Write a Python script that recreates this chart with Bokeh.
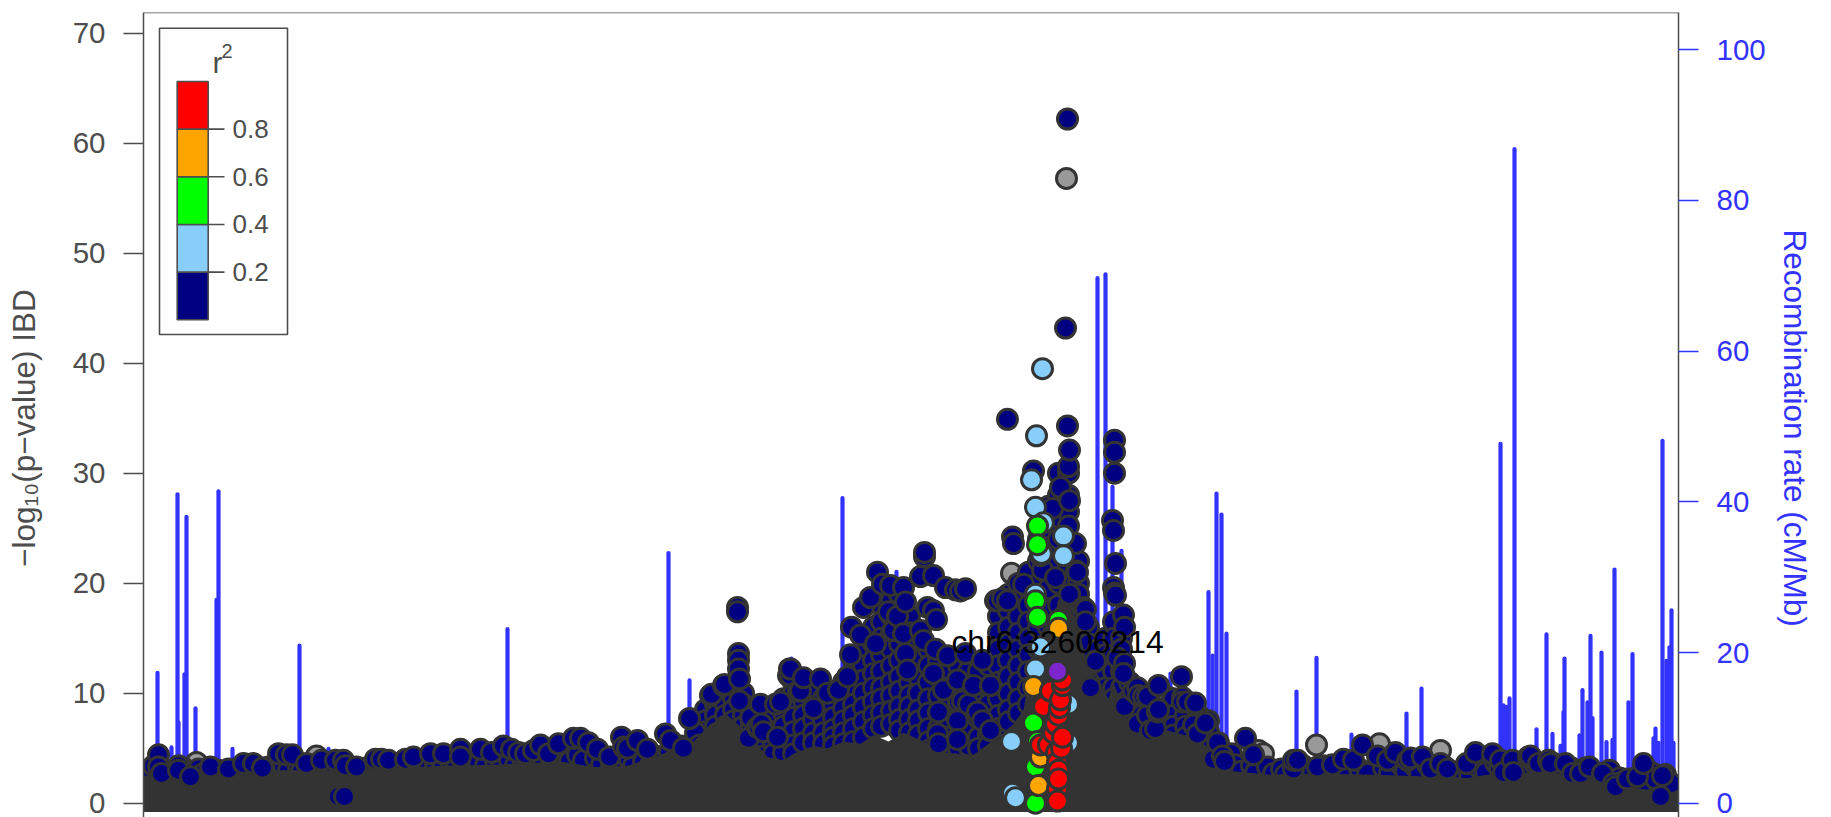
from bokeh.plotting import figure
from bokeh.models import Range1d, LinearAxis, FixedTicker, Span
from bokeh.core.properties import value
from bokeh.embed import file_html
from bokeh.resources import INLINE

# x is position in kb from the left edge of the window; y is -log10(p)
# recombination rate spikes (kb, cM/Mb)
rate_kb = [14,28,34,35,41,43,52,73,75,89,156,185,364,525,546,551,648,699,753,954,962,969,978,1027,1065,1069,1073,1078,1083,1096,
           1153,1173,1208,1263,1278,1340,1357,1360,1363,1366,1371,1393,1403,1409,1417,1420,1421,1436,1439,1444,1447,1449,1458,1463,1469,1471,
           1485,1489,1495,1510,1512,1515,1519,1523,1524,1526,1528,1530]
rate_val = [17.3,7.4,41.0,10.7,17.1,38.0,12.6,27.0,41.4,7.2,20.9,7.2,23.1,33.2,16.3,12.3,19.2,40.5,30.7,69.7,70.2,42.0,33.5,17.2,28.0,19.6,41.1,38.3,22.5,8.6,
            14.8,19.3,9.1,11.9,15.2,6.7,47.7,13.0,12.8,13.9,86.8,9.8,22.4,9.2,7.6,12.1,19.2,9.0,15.0,13.4,22.2,11.3,20.0,8.1,8.4,31.0,
            13.4,19.8,6.1,8.6,9.9,8.0,48.1,18.9,8.5,20.7,25.6,8.0]

# outline of the solid overplotted mass of points
mass_kb = [0,50,100,150,185,210,250,300,350,400,417,450,484,517,550,567,584,604,624,640,650,670,684,700,717,730,745,760,780,800,830,860,
           870,880,890,905,925,945,965,970,990,1024,1050,1057,1075,1090,1124,1157,1224,1290,1324,1357,1390,1424,1457,1490,1524,1535]
mass_top = [2.5,2.7,3.0,3.0,3.0,3.0,3.2,3.4,3.5,3.7,3.8,3.3,3.4,4.4,5.6,7.2,8.0,6.4,4.2,3.9,4.5,5.2,5.0,5.6,5.4,6.2,5.6,6.4,5.6,4.6,4.4,6.4,
            7.2,8.5,14.0,17.0,19.0,12.5,9.5,11.0,6.2,6.6,6.0,5.6,4.3,2.9,2.6,2.7,2.6,2.4,2.3,2.8,2.8,2.7,2.1,1.4,1.0,1.0]

# stacks of points inside the dense part of the peak: position -> values
stack_kb = [562,572,582,590,600,608,620,630,640,650,660,670,680,690,700,710,720,730,738,748,756,766,775,785,795,805,815,825,835,845,
            855,865,875,885,895,905,915,925,935,945,955,962,970,978,986,998,1008,1020,1030,1042,1055,1065,1075,1088]
stack_vals = [[8.5,7.5,6.5],[9,8,7],[10,9,8,7],[10.5,9.5,8.5,7.5,6.5],[10,9,8,7,6],[7,6,5.3],[7.5,6,5,4.3],[8,6.5,5.5,4.5],
              [9.5,8.2,7,5.8,4.6],[11,10,9,7.8,6.5,5.3,4.5],[10.5,9.3,8,6.8,5.5],[10,8.8,7.6,6.4,5.5],[9.5,8.6,7.5,6.4,5.4],[10,9,7.8,6.7,6,5.2],
              [11,9.8,8.6,7.5,6.4,5.4],[13,11.5,10.3,9,8,6.8,5.6],[14,12.5,11.2,10,8.7,7.4,6],[16,14.5,13,11.8,10.5,9.2,8,6.8],[18,16.5,15,13.5,12,10.5,9.5,8.2,7],
              [18.5,17,15.5,14,12.5,11,9.8,8.4,7.2],[19,16,14.5,13,11.5,10.2,8.8,7.6,6.6],[17,15.5,14,12.5,11,9.8,8.8,7.6,6.4],[14.5,13,11.5,10,8.5,7.5,6.2],
              [14,12.5,11,9.5,8.2,6.8,5.6,4.8],[13,11.5,9.8,8.2,6.8,5.8,4.8],[12,10.5,9,7.5,6,5],[12.5,10.5,9.2,7.5,6,5],[12,10.2,8,6.5,5.2],[12,9.5,7.7,6,5],
              [12.5,10.5,9,7.5,6.2,5.2],[17,15.5,14,12.5,11,9.5,8,6.8],[19,17.5,16,14.5,13,11.5,10,8.5,7.4],[20,18.5,17,15.5,14,12.5,11,9.5,8.2],
              [21,19.5,18,16.5,15,13.5,12,10.5,9],[24,22,20,18,16,14,12],[27,25,23,21.5,19.5,17.5,16,14,12],[30,28,26,24,22,20,18],
              [30,28,26.5,24,23,21.5,20,18],[22,20,19,17.5,16,14.5,13,11.5],[16,14.5,13,11.5,10],[14,12.5,11,9.5,8.5],
              [15,13.5,12,10.5,9],[16.5,15,13.5,12,10.5,9.5],[15,14,12,10.5,9],[11,9.5,8.5,7.5],[9,8,7,6.2],[8.5,7.5,6.5],
              [8.6,7.5,6.5,5.8],[9.5,8,7,6.2],[9,8,7,6],[8,7,6,5],[7.5,6.5,5.5],[5.5,4.5],[4.5,3.5]]

# points along the low shoulders, just under the upper edge
base_kb = [5,10,22,28,40,45,55,60,75,80,92,95,105,112,125,128,140,145,155,158,170,175,185,188,210,215,222,228,236,242,252,256,268,272,280,285,
           292,298,308,312,322,326,335,342,352,358,366,372,380,386,394,400,408,412,422,426,434,440,452,458,468,472,486,490,500,506,512,516,526,532,
           538,544,552,556,
           1092,1098,1108,1112,1124,1130,1138,1142,1160,1164,1180,1184,1196,1204,1216,1224,1240,1246,1258,1262,1272,1276,1284,1292,1300,1310,1318,1326,1336,1342,1352,
           1356,1366,1374,1380,1392,1398,1410,1414,1428,1434,1442,1452,1456,1466,1476,1480,1490,1498,1508,1512,1522,1528]
base_val = [2.8,3.4,3.0,2.6,3.2,2.8,3.1,2.7,3.0,2.6,3.1,2.7,3.2,2.8,3.3,2.9,3.4,3.0,3.3,2.9,3.3,3.0,3.2,2.8,3.1,2.7,3.2,2.9,3.3,2.8,3.4,2.9,3.4,3.0,3.3,3.6,
            3.5,3.9,3.5,3.1,3.7,3.2,3.8,3.4,3.8,3.3,3.9,3.4,3.7,3.3,3.9,3.5,3.9,3.4,4.3,3.8,4.4,3.9,4.1,3.5,3.6,3.2,3.9,3.4,3.8,3.3,4.3,3.7,4.6,4.0,
            5.2,4.4,6.4,5.3,
            3.5,2.9,3.4,2.8,3.3,2.7,3.1,2.6,3.4,2.8,3.4,2.8,3.0,2.6,3.1,2.7,3.2,2.7,3.4,2.9,3.3,2.8,3.5,3.0,3.4,2.7,3.0,2.5,3.2,2.8,3.7,
            3.2,3.6,3.2,2.8,3.5,3.0,3.6,3.1,3.2,2.8,3.2,2.6,2.2,3.0,2.3,2.0,2.2,1.7,2.8,2.2,2.6,1.8]

navy_kb = [15,15,18,35,35,47,67,85,100,110,119,135,143,149,163,178,192,200,195,201,202,213,232,238,245,262,270,287,300,317,317,337,348,360,368,375,382,390,397,405,415,
           430,437,445,454,466,478,480,484,494,504,522,527,540,546,567,568,580,581,594,594,595,595,595,596,596,605,607,614,615,617,618,620,632,634,637,645,646,647,647,655,657,660,670,677,684,695,
           704,707,708,717,720,727,732,734,739,745,747,750,754,760,760,762,762,764,777,777,780,781,781,784,790,790,790,792,793,794,795,795,800,802,804,812,814,814,814,817,819,822,822,825,830,834,839,839,847,847,
           852,854,859,864,864,869,870,880,890,899,909,912,917,922,924,924,925,925,926,926,926,932,933,934,940,942,942,947,952,
           969,970,970,971,971,971,971,972,972,974,980,981,981,980,981,990,994,994,995,1000,1004,1004,1007,1012,1014,1015,1015,1038,1039,1039,1044,1050,1052,1054,1062,1070,1074,1079,1081,
           1102,1110,1150,1150,1154,1174,1189,1200,1210,1219,1234,1244,1252,1264,1267,1279,1287,1297,1304,1323,1332,1349,1357,1360,1369,1370,1385,1387,1395,1405,1407,1422,1429,1437,1446,1459,1470,1472,1484,1494,1500,1517,1519,1532,1534]
navy_val = [4.4,3.3,2.7,3.4,3.0,2.4,3.3,3.1,3.6,3.6,3.2,4.5,4.4,4.4,3.6,3.9,3.9,3.9,0.6,0.6,3.4,3.3,4.0,4.0,3.9,4.0,4.2,4.5,4.5,4.9,4.2,4.9,4.6,5.2,4.9,4.6,4.5,4.8,5.3,4.5,5.4,
            5.9,5.9,5.5,4.9,4.2,6.0,5.1,5.0,5.7,4.9,6.3,5.7,5.0,7.7,9.8,9.9,10.7,10.8,17.8,17.4,13.6,13.0,12.2,11.3,9.3,5.9,7.8,6.9,6.9,9.0,7.2,6.5,9.0,6.0,9.2,11.6,12.2,11.6,12.2,10.2,10.2,11.4,8.6,11.3,10.0,10.3,
            11.5,13.5,16.0,15.3,17.8,18.7,14.5,21.0,19.9,17.4,19.8,15.7,17.0,19.6,15.4,18.3,13.6,12.1,20.6,15.7,14.8,22.4,22.8,17.8,20.7,17.5,11.8,14.0,16.7,6.3,8.3,5.4,10.3,19.6,13.4,19.4,11.2,7.5,5.8,19.3,9.3,19.5,13.6,9.0,10.7,8.3,13.0,7.5,10.7,6.6,
            18.4,18.4,18.6,34.9,18.4,24.2,23.6,19.9,30.2,21.2,26.8,20.5,28.7,43.2,62.2,34.3,30.6,25.2,32.1,27.5,19.0,23.6,21.1,21.0,17.8,17.6,16.5,10.5,12.9,
            25.7,24.8,19.6,33.0,31.9,30.0,19.1,21.8,18.9,13.2,17.1,16.0,12.7,11.8,8.8,10.2,7.2,10.5,9.8,9.7,8.0,9.7,6.6,6.8,8.3,8.5,10.7,11.5,9.6,9.2,9.2,7.1,9.1,6.3,7.3,4.0,5.5,
            4.3,3.8,5.9,4.4,3.1,3.9,3.9,3.3,3.5,4.0,3.9,5.3,4.3,3.9,4.6,3.9,4.1,4.2,3.1,3.6,3.1,3.6,4.6,4.5,3.9,2.8,3.9,2.8,4.2,4.3,3.6,3.9,3.6,3.6,2.7,2.7,3.3,2.7,1.8,1.5,2.2,2.4,3.6,0.6,2.5]

gray_kb = [53,173,815,837,850,868,923,1025,1029,1115,1120,1173,1236,1297]
gray_val = [3.7,4.3,6.9,11.5,7.8,20.9,56.8,9.6,9.3,4.8,4.5,5.3,5.4,4.8]

sky_kb = [868,869,872,888,892,892,892,893,897,897,898,899,900,920,920,925,925]
sky_val = [5.6,0.9,0.5,29.4,26.9,19.0,12.2,33.4,22.5,14.2,22.7,39.5,25.5,24.3,22.5,9.0,5.5]

green_kb = [890,892,892,892,894,894,894,894,915]
green_val = [7.3,18.4,3.3,0.0,25.2,23.5,16.9,5.6,16.6]

orange_kb = [890,895,897,915]
orange_val = [10.6,1.6,4.2,15.9]

red_kb = [897,900,905,907,910,912,913,914,914,914,915,915,915,916,917,918,919,919,919]
red_val = [5.3,8.8,5.3,10.2,6.4,7.2,4.6,3.7,1.3,0.2,8.0,3.0,2.2,8.7,9.4,5.0,10.7,6.0,11.2]

lead_kb = [914]
lead_val = [12.0]
lead_name = "chr6:32606214"

left_ticks = [0,10,20,30,40,50,60,70]
right_ticks = [0,20,40,60,80,100]
legend_breaks = [0.0,0.2,0.4,0.6,0.8,1.0]
legend_colors = ["#000080","#87CEFA","#00FF00","#FFA500","#FF0000"]
legend_labels = ["0.2","0.4","0.6","0.8"]

INK = "#4D4D4D"
BLUE = "#3333FF"
FONT = "Liberation Sans"
EDGE = "#333333"

# page-pixel helpers for the furniture placed around the frame
def kx(px):
    return px - 143.0
def vy(py):
    return (802.7 - py) / 11.0

p = figure(width=1825, height=817, output_backend="svg", toolbar_location=None,
           x_range=Range1d(0, 1535), y_range=Range1d(vy(817), vy(12)),
           min_border_left=143, min_border_right=147, min_border_top=12, min_border_bottom=0)
p.xaxis.visible = False
p.xgrid.visible = False
p.ygrid.visible = False
p.outline_line_color = None
p.background_fill_color = "white"
p.add_layout(Span(location=vy(12), dimension="width", line_color=INK, line_width=1.5))

ax = p.yaxis[0]
ax.ticker = FixedTicker(ticks=left_ticks)
ax.major_tick_in = 0
ax.major_tick_out = 20
ax.minor_tick_line_color = None
ax.major_tick_line_color = INK
ax.major_tick_line_width = 1.5
ax.axis_line_color = INK
ax.axis_line_width = 1.5
ax.major_label_text_color = INK
ax.major_label_text_font = FONT
ax.major_label_text_font_size = "29.5px"
ax.major_label_standoff = 18
ax.axis_label = "\u2212log\u2081\u2080(p\u2212value) IBD\u00a0\u00a0\u00a0"
ax.axis_label_text_color = INK
ax.axis_label_text_font = FONT
ax.axis_label_text_font_style = "normal"
ax.axis_label_text_font_size = "31.5px"
ax.axis_label_standoff = 28

p.extra_y_ranges = {"rate": Range1d((vy(817)) * 11.0 / 7.535, vy(12) * 11.0 / 7.535)}
rax = LinearAxis(y_range_name="rate", ticker=FixedTicker(ticks=right_ticks))
rax.major_tick_in = 0
rax.major_tick_out = 20
rax.minor_tick_line_color = None
rax.major_tick_line_color = BLUE
rax.major_tick_line_width = 1.5
rax.axis_line_color = INK
rax.axis_line_width = 1.5
rax.major_label_text_color = BLUE
rax.major_label_text_font = FONT
rax.major_label_text_font_size = "29.5px"
rax.major_label_standoff = 18
rax.axis_label = "\u00a0\u00a0\u00a0Recombination rate (cM/Mb)"
rax.axis_label_text_color = BLUE
rax.axis_label_text_font = FONT
rax.axis_label_text_font_style = "normal"
rax.axis_label_text_font_size = "31.5px"
rax.axis_label_standoff = 8
p.add_layout(rax, "right")

# recombination spikes
p.segment(x0=rate_kb, y0=[0]*len(rate_kb), x1=rate_kb, y1=rate_val, y_range_name="rate",
          line_color=BLUE, line_width=4.2, line_cap="round")

def pts(x, y, color):
    p.scatter(x, y, size=20, fill_color=color, line_color=EDGE, line_width=3)

stack_x = [k for k, vs in zip(stack_kb, stack_vals) for _ in vs]
stack_y = [v for vs in stack_vals for v in vs]
pts(gray_kb, gray_val, "#999999")
pts(stack_x, stack_y, "#000080")
pts(base_kb, base_val, "#000080")

# overplotted base hides the lower part of those points
p.varea(x=mass_kb, y1=[vy(811.5)]*len(mass_kb), y2=mass_top, fill_color=EDGE)

pts(navy_kb, navy_val, "#000080")
pts(sky_kb, sky_val, "#87CEFA")
pts(green_kb, green_val, "#00FF00")
pts(orange_kb, orange_val, "#FFA500")
pts(red_kb, red_val, "#FF0000")
pts(lead_kb, lead_val, "#7D26CD")

# r2 legend box
p.quad(left=[kx(159)], right=[kx(287)], top=[vy(27.7)], bottom=[vy(334)],
       fill_color="white", line_color=INK, line_width=1.6)
def ley(r):
    return vy(319.3 - r * (319.3 - 81.0))
p.quad(left=[kx(176.7)]*5, right=[kx(207.7)]*5,
       bottom=[ley(b) for b in legend_breaks[:-1]], top=[ley(b) for b in legend_breaks[1:]],
       fill_color=legend_colors, line_color=INK, line_width=1.6)
tb = legend_breaks[1:-1]
p.segment(x0=[kx(207.7)]*4, x1=[kx(224)]*4, y0=[ley(b) for b in tb], y1=[ley(b) for b in tb],
          line_color=INK, line_width=1.6)
p.text(x=[kx(232)]*4, y=[ley(b) for b in tb], text=legend_labels, text_align="left", text_baseline="middle",
       text_color=INK, text_font=value(FONT), text_font_size="26px")
p.text(x=[kx(212)], y=[vy(62)], text=["r"], text_align="left", text_baseline="middle",
       text_color=INK, text_font=value(FONT), text_font_size="30px")
p.text(x=[kx(221)], y=[vy(50)], text=["2"], text_align="left", text_baseline="middle",
       text_color=INK, text_font=value(FONT), text_font_size="20px")

# lead SNP name
p.text(x=lead_kb, y=[vy(641)], text=[lead_name], text_align="center", text_baseline="middle",
       text_color="black", text_font=value(FONT), text_font_size="31.8px")

open("out.html", "w").write(file_html(p, INLINE))
